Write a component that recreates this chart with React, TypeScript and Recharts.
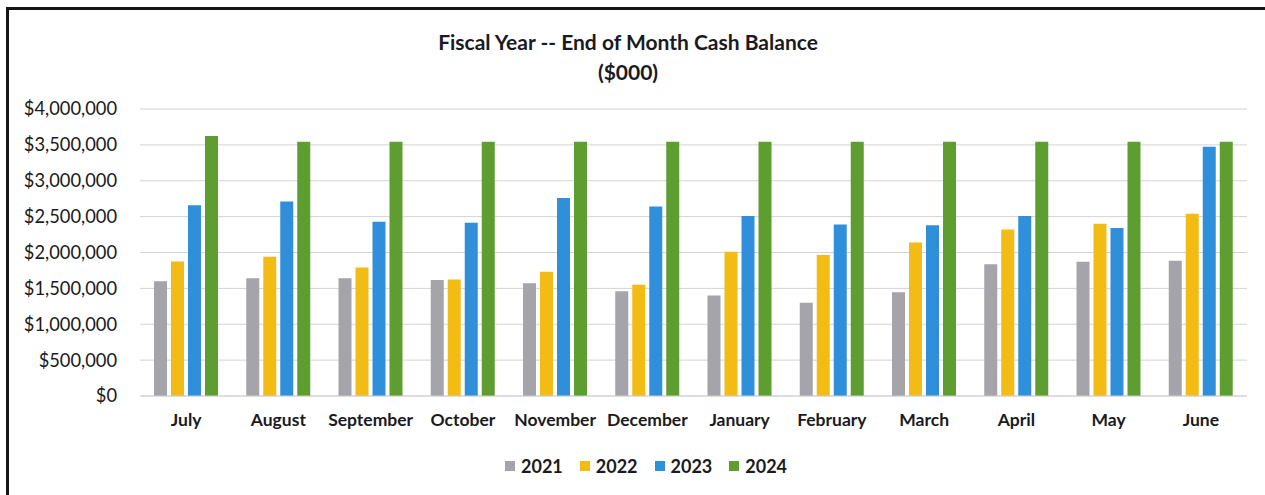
import React from 'react';
import { Bar, BarChart, CartesianGrid, XAxis, YAxis } from 'recharts';

const months = [
    'July', 'August', 'September', 'October', 'November', 'December',
    'January', 'February', 'March', 'April', 'May', 'June',
];
const fy2021 = [1600000, 1640000, 1640000, 1615000, 1570000, 1460000, 1400000, 1300000, 1445000, 1835000, 1870000, 1885000];
const fy2022 = [1875000, 1940000, 1790000, 1625000, 1730000, 1550000, 2010000, 1965000, 2140000, 2320000, 2400000, 2540000];
const fy2023 = [2660000, 2710000, 2430000, 2415000, 2760000, 2640000, 2510000, 2390000, 2380000, 2510000, 2340000, 3475000];
const fy2024 = [3625000, 3545000, 3545000, 3545000, 3545000, 3545000, 3545000, 3545000, 3545000, 3545000, 3545000, 3545000];
const yTicks = [0, 500000, 1000000, 1500000, 2000000, 2500000, 3000000, 3500000, 4000000];

const series = [
    { key: '2021', color: '#a4a4aa' },
    { key: '2022', color: '#f2bc14' },
    { key: '2023', color: '#2f8fdb' },
    { key: '2024', color: '#5e9e30' },
];

const data = months.map((m, i) => ({
    month: m,
    '2021': fy2021[i],
    '2022': fy2022[i],
    '2023': fy2023[i],
    '2024': fy2024[i],
}));

const font = 'Lato, "Open Sans", sans-serif';
const money = (v: number) => '$' + v.toLocaleString('en-US');

export default function App() {
    return (
        <div
            style={{
                position: 'absolute',
                left: 0,
                top: 0,
                width: 1265,
                height: 495,
                background: '#ffffff',
                overflow: 'hidden',
                fontFamily: font,
            }}
        >
            <div
                style={{
                    position: 'absolute',
                    left: 6,
                    top: 7,
                    width: 1270,
                    height: 500,
                    borderTop: '3px solid #151515',
                    borderLeft: '3px solid #151515',
                }}
            />
            <div
                style={{
                    position: 'absolute',
                    left: 0,
                    top: 27,
                    width: 1256,
                    textAlign: 'center',
                    fontWeight: 700,
                    fontSize: 21,
                    lineHeight: '30px',
                    color: '#1a1a22',
                }}
            >
                <div>Fiscal Year -- End of Month Cash Balance</div>
                <div>($000)</div>
            </div>
            <BarChart
                width={1265}
                height={495}
                data={data}
                margin={{ top: 109, right: 18, bottom: 0, left: 0 }}
                barSize={13}
                barGap={4}
                style={{ position: 'absolute', left: 0, top: 0 }}
            >
                <CartesianGrid vertical={false} stroke='#d2d2da' />
                <XAxis
                    dataKey='month'
                    height={99}
                    axisLine={{ stroke: '#cfcfd6' }}
                    tickLine={false}
                    tickSize={0}
                    tickMargin={18}
                    interval={0}
                    tick={{ fill: '#1a1a22', fontSize: 17.5, fontWeight: 700, fontFamily: font }}
                />
                <YAxis
                    width={140}
                    domain={[0, 4000000]}
                    ticks={yTicks}
                    tickFormatter={money}
                    axisLine={false}
                    tickLine={false}
                    tickSize={0}
                    tickMargin={23}
                    tick={{ fill: '#1a1a22', fontSize: 18.3, fontFamily: font }}
                />
                {series.map((s) => (
                    <Bar key={s.key} dataKey={s.key} fill={s.color} isAnimationActive={false} />
                ))}
            </BarChart>
            <div
                style={{
                    position: 'absolute',
                    left: 505,
                    top: 455,
                    display: 'flex',
                    alignItems: 'center',
                    gap: 17,
                    fontSize: 18,
                    fontWeight: 700,
                    color: '#1a1a22',
                }}
            >
                {series.map((s) => (
                    <div key={s.key} style={{ display: 'flex', alignItems: 'center' }}>
                        <span style={{ width: 10, height: 10, background: s.color, marginRight: 6, display: 'inline-block' }} />
                        <span>{s.key}</span>
                    </div>
                ))}
            </div>
        </div>
    );
}
